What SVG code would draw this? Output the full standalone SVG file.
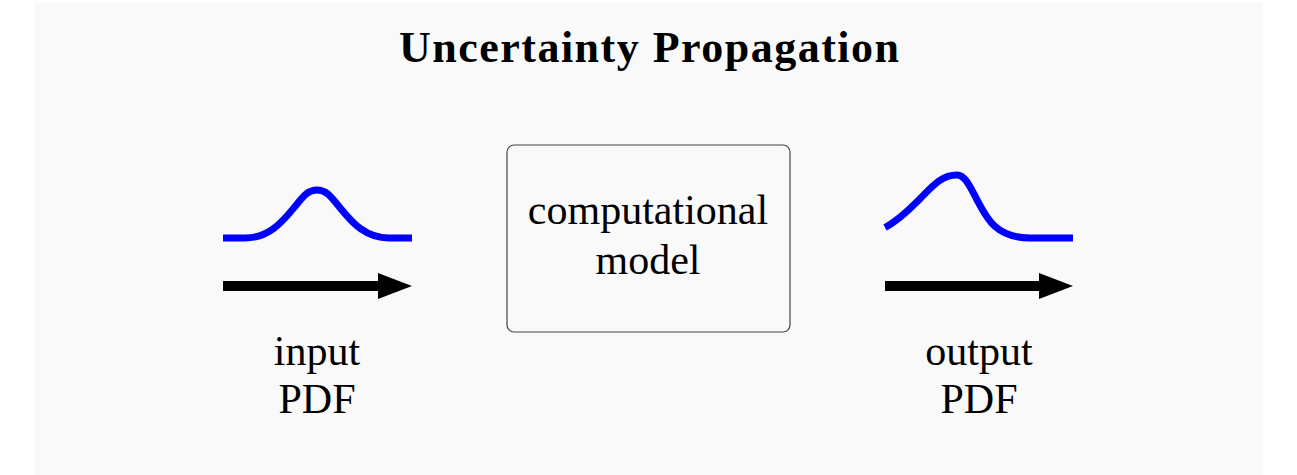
<svg xmlns="http://www.w3.org/2000/svg" width="1297" height="475" viewBox="0 0 1297 475">
<style>
.t{font-family:"Liberation Serif","Times New Roman",serif;font-size:42px;fill:#000;text-anchor:middle}
.title{font-family:"Liberation Serif","Times New Roman",serif;font-size:44px;font-weight:bold;fill:#000;text-anchor:middle}
.pdf{fill:none;stroke:#0000ff;stroke-width:7;stroke-linejoin:round}
.arr{stroke:#000;stroke-width:10;fill:none}
</style>
<defs>
<marker id="ah" markerUnits="userSpaceOnUse" markerWidth="36" markerHeight="28" refX="0" refY="13" orient="auto" viewBox="0 0 36 28">
<polygon points="0,0 34,13 0,26" fill="#000"/>
</marker>
</defs>
<rect x="0" y="0" width="1297" height="475" fill="#ffffff"/>
<rect x="34" y="3" width="1229" height="472" fill="#f9f9f9"/>
<text class="title" x="649" y="62" textLength="500" lengthAdjust="spacing">Uncertainty Propagation</text>
<g id="input-pdf">
<path class="pdf" d="M223,238 L245,238 C268,238 281,223.5 293,208.9 C303,196.8 307,190 317,190 C327,190 331,196.8 341,208.9 C353,223.5 366,238 389,238 L412,238"/>
<text class="t" x="317" y="365">input</text>
<text class="t" x="317" y="413">PDF</text>
</g>
<g id="model">
<rect x="507" y="145" width="283" height="187" rx="7" ry="7" fill="none" stroke="#444" stroke-width="1.2"/>
<text class="t" x="648" y="224">computational</text>
<text class="t" x="648" y="274">model</text>
</g>
<g id="output-pdf">
<path class="pdf" d="M885,227.5 C896,221.8 908,210.9 919,199.8 C932,186.7 941,175 957,175 C965,175 970,186.4 977,199.8 C986,217 995,238 1030,238 L1073,238"/>
<text class="t" x="979" y="365">output</text>
<text class="t" x="979" y="413">PDF</text>
</g>
<g id="connectors">
<line class="arr" x1="223" y1="286" x2="378" y2="286" marker-end="url(#ah)"/>
<line class="arr" x1="885" y1="286" x2="1039" y2="286" marker-end="url(#ah)"/>
</g>
</svg>
